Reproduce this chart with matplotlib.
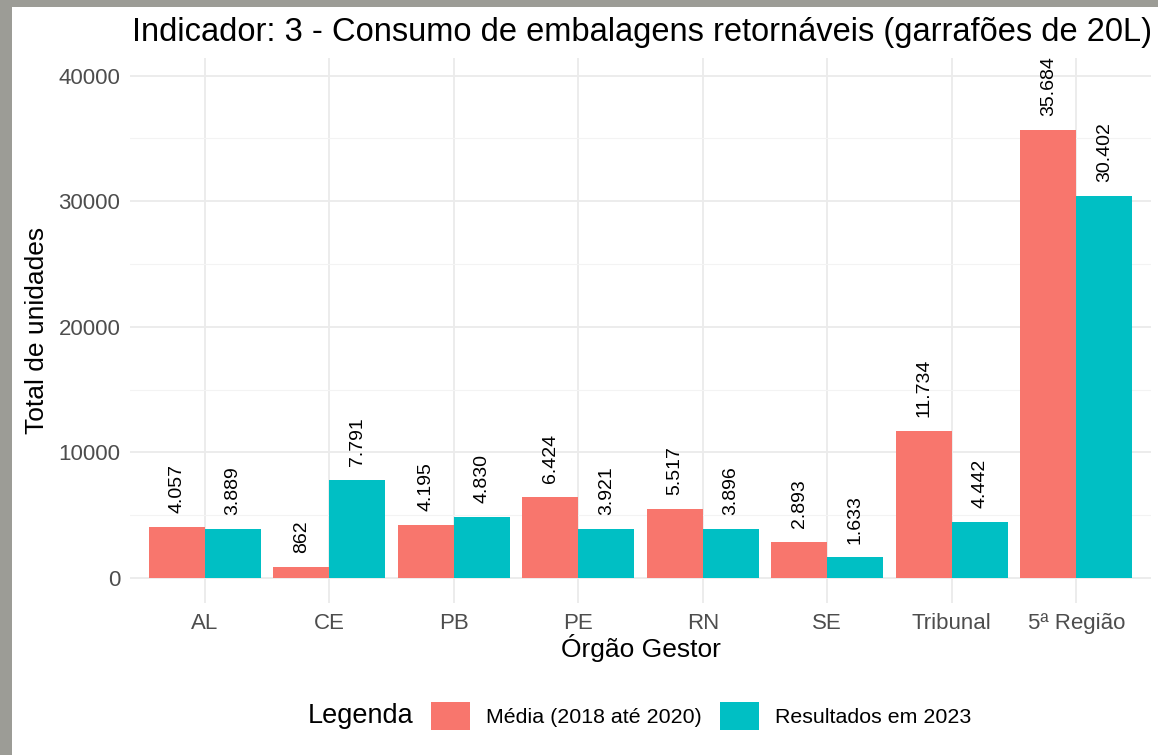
import numpy as np
import matplotlib.pyplot as plt
from matplotlib.patches import Rectangle, Patch

plt.rcParams['font.family'] = ['Liberation Sans', 'DejaVu Sans']

# Data
orgaos = ["AL", "CE", "PB", "PE", "RN", "SE", "Tribunal", "5ª Região"]
media_2018_2020 = [4057, 862, 4195, 6424, 5517, 2893, 11734, 35684]
resultados_2023 = [3889, 7791, 4830, 3921, 3896, 1633, 4442, 30402]
series_names = ["Média (2018 até 2020)", "Resultados em 2023"]
colors = ["#F8766D", "#00BFC4"]


def fmt(v):
    return f"{v:,}".replace(",", ".")


fig = plt.figure(figsize=(11.58, 7.55), dpi=100)
ax = fig.add_axes([0.1123, 0.2013, 0.8817, 0.7217])

x = np.arange(len(orgaos))
w = 0.45
for i, (vals, col) in enumerate(zip([media_2018_2020, resultados_2023], colors)):
    pos = x + (i - 0.5) * w
    ax.bar(pos, vals, width=w, color=col, label=series_names[i], zorder=2)
    for p, v in zip(pos, vals):
        ax.annotate(fmt(v), (p, v), xytext=(0, 10), textcoords="offset points",
                    rotation=90, ha="center", va="bottom", fontsize=14,
                    color="black")

ax.set_xlim(-0.6, len(orgaos) - 0.4)
ax.set_ylim(-2000, 41400)
ax.set_xticks(x)
ax.set_xticklabels(orgaos)
ax.set_yticks([0, 10000, 20000, 30000, 40000])
ax.set_yticks([5000, 15000, 25000, 35000], minor=True)
ax.grid(True, which="major", color="#EBEBEB", linewidth=1.3, zorder=0)
ax.grid(True, which="minor", axis="y", color="#F3F3F3", linewidth=0.8, zorder=0)
ax.tick_params(axis="both", which="both", length=0, labelsize=16,
               labelcolor="#4D4D4D", pad=7)
for s in ax.spines.values():
    s.set_visible(False)

ax.set_xlabel("Órgão Gestor", fontsize=19, va="center")
ax.xaxis.set_label_coords(0.5, -0.083)
ax.set_ylabel("Total de unidades", fontsize=19, va="center")
ax.yaxis.set_label_coords(-0.091, 0.5)
fig.text(0.554, 1 - 33 / 755,
         "Indicador: 3 - Consumo de embalagens retornáveis (garrafões de 20L)",
         fontsize=23.5, ha="center", va="center")

handles = [Patch(facecolor=c, edgecolor="none") for c in colors]
fig.legend(handles, series_names, loc="center left",
           bbox_to_anchor=(431 / 1158, 1 - 716 / 755), borderpad=0,
           borderaxespad=0, ncol=2, frameon=False, fontsize=15.4,
           handlelength=1.82, handleheight=1.64, handletextpad=0.75,
           columnspacing=0.84)
fig.text(308 / 1158, 1 - 716 / 755, "Legenda", fontsize=19.5,
         va="center", ha="left")

# screenshot frame on the left and top
fig.patches.append(Rectangle((0, 0), 12 / 1158, 1, transform=fig.transFigure,
                             facecolor="#9c9c96", edgecolor="none", zorder=10))
fig.patches.append(Rectangle((0, 1 - 7 / 755), 1, 7 / 755, transform=fig.transFigure,
                             facecolor="#9c9c96", edgecolor="none", zorder=10))

fig.savefig("out.png", dpi=100)
